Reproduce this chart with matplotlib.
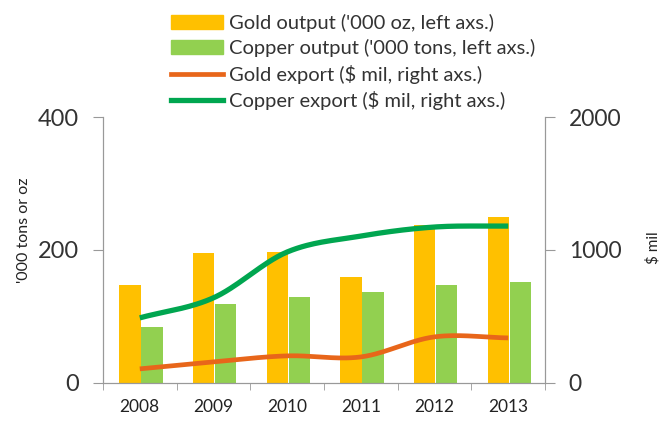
import numpy as np
import matplotlib
matplotlib.use("Agg")
import matplotlib.pyplot as plt
from matplotlib.patches import Patch
from matplotlib.lines import Line2D

plt.rcParams['font.family'] = ['Lato', 'DejaVu Sans']

years = ["2008", "2009", "2010", "2011", "2012", "2013"]
gold_output = [147, 195, 197, 160, 238, 250]
copper_output = [84, 119, 129, 137, 147, 152]
gold_export = [105, 158, 203, 195, 346, 338]
copper_export = [489, 640, 985, 1105, 1173, 1180]

def smooth(x, y, n=30):
    # Catmull-Rom style smoothing through data points (rendering only)
    x = np.asarray(x, float); y = np.asarray(y, float)
    px = np.concatenate([[2*x[0]-x[1]], x, [2*x[-1]-x[-2]]])
    py = np.concatenate([[2*y[0]-y[1]], y, [2*y[-1]-y[-2]]])
    xs, ys = [], []
    for i in range(1, len(px)-2):
        t = np.linspace(0, 1, n, endpoint=(i == len(px)-3))
        for arr, out in ((px, xs), (py, ys)):
            p0, p1, p2, p3 = arr[i-1], arr[i], arr[i+1], arr[i+2]
            out.extend(0.5*((2*p1) + (-p0+p2)*t + (2*p0-5*p1+4*p2-p3)*t**2 + (-p0+3*p1-3*p2+p3)*t**3))
    return np.array(xs), np.array(ys)

fig = plt.figure(figsize=(6.64, 4.23), dpi=100)
ax = fig.add_axes([0.155, 0.095, 0.666, 0.628])
ax2 = ax.twinx()

x = np.arange(len(years))
w = 0.29
ax.bar(x - w/2 + 0.01, gold_output, w, color="#FFC000", zorder=2)
ax.bar(x + w/2 + 0.02, copper_output, w, color="#92D050", zorder=2)

sx, sy = smooth(x, gold_export)
ax2.plot(sx, sy, color="#E8661A", lw=3.4, solid_capstyle='butt')
sx, sy = smooth(x, copper_export)
ax2.plot(sx, sy, color="#00A650", lw=3.8, solid_capstyle='butt')

ax.set_xlim(-0.5, len(years)-0.5)
ax.set_ylim(0, 400)
ax2.set_ylim(0, 2000)
ax.set_yticks([0, 200, 400])
ax2.set_yticks([0, 1000, 2000])
ax.set_xticks(x)
ax.set_xticklabels(years, fontsize=12.5, color="#222222")
ax.set_xticks(np.arange(-0.5, len(years)), minor=True)
ax.tick_params(axis='x', which='major', length=0, pad=12)
ax.tick_params(axis='x', which='minor', length=5, color="#999999")
ax.tick_params(axis='y', labelsize=17, length=7, color="#999999", labelcolor="#333333", pad=10)
ax2.tick_params(axis='y', labelsize=16.5, length=7, color="#999999", labelcolor="#333333", pad=10)

for a in (ax, ax2):
    a.spines['top'].set_visible(False)
    for s in ('left', 'right', 'bottom'):
        a.spines[s].set_color("#999999")

ax.set_ylabel("'000 tons or oz", fontsize=11.5, color="#222222")
ax.yaxis.set_label_coords(-0.163, 0.575)
ax2.set_ylabel("$ mil", fontsize=11, color="#222222")
ax2.yaxis.set_label_coords(1.229, 0.508)

handles = [Patch(color="#FFC000"), Patch(color="#92D050"),
           Line2D([], [], color="#E8661A", lw=3.4),
           Line2D([], [], color="#00A650", lw=3.8)]
labels = ["Gold output ('000 oz, left axs.)", "Copper output ('000 tons, left axs.)",
          "Gold export ($ mil, right axs.)", "Copper export ($ mil, right axs.)"]
fig.legend(handles, labels, loc='upper left', bbox_to_anchor=(0.236, 1.0),
           frameon=False, fontsize=14.5, handlelength=2.6, handleheight=0.7,
           handletextpad=0.3, labelspacing=0.36, borderaxespad=0.3, labelcolor="#333333")

fig.savefig("out.png", dpi=100)
